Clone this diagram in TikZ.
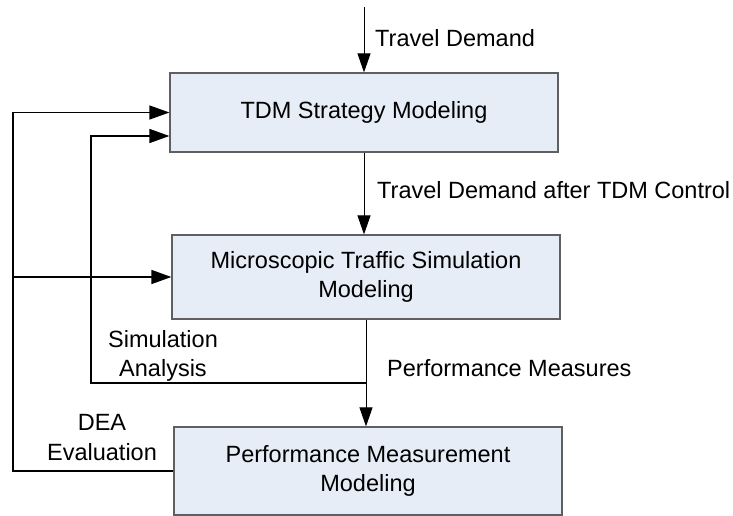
\documentclass[tikz,border=0pt]{standalone}
\usepackage{fontspec}
\setmainfont{Liberation Sans}
\usetikzlibrary{arrows.meta}
\definecolor{boxfill}{RGB}{230,237,247}
\definecolor{boxline}{RGB}{95,95,95}
\tikzset{
    stage/.style={draw=boxline, fill=boxfill, line width=1.2pt, minimum width=388pt, align=center, inner sep=0pt},
    flow/.style={-{Triangle[length=19pt,width=13pt]}, line width=1pt},
    loopback/.style={-{Triangle[length=20pt,width=14pt]}, line width=1.3pt},
    tag/.style={inner sep=0pt, align=center}
}

\begin{document}
\begin{tikzpicture}[x=1pt, y=-1pt, font=\fontsize{23.5}{29.5}\selectfont]
    \useasboundingbox (0,0) rectangle (733,516);
    % the three modeling stages
    \node[stage, minimum height=79pt] (tdm) at (364,112.5) {TDM Strategy Modeling};
    \node[stage, minimum height=84pt] (micro) at (366,277) {Microscopic Traffic Simulation\\Modeling};
    \node[stage, minimum height=88pt] (perf) at (368,471) {Performance Measurement\\Modeling};

    % main flow
    \coordinate (demand) at (364,7);
    \draw[flow] (demand) -- (tdm.north);
    \draw[flow] (tdm.south) -- (tdm.south |- micro.north);
    \draw[flow] (micro.south) -- (micro.south |- perf.north);
    \node[tag, anchor=west] (lbldemand) at (375,38) {Travel Demand};
    \node[tag, anchor=west] (lblafter) at (377,190) {Travel Demand after TDM Control};
    \node[tag, anchor=west] (lblmeasures) at (387,368) {Performance Measures};

    % feedback loops
    \coordinate (simtap) at (366,383);
    \coordinate (simcorner) at (91,383);
    \coordinate (deacorner) at (13,471);
    \coordinate (branch) at (13,277);
    \draw[loopback] (simtap) -- (simcorner) |- ([yshift=-23.5pt]tdm.west);
    \draw[loopback] (perf.west) -- (deacorner) |- (tdm.west);
    \draw[loopback] (branch) -- (micro.west);
    \node[tag] (lblsim) at (163,356) {Simulation\\Analysis};
    \node[tag] (lbldea) at (102,437.5) {DEA\\Evaluation};
\end{tikzpicture}
\end{document}
